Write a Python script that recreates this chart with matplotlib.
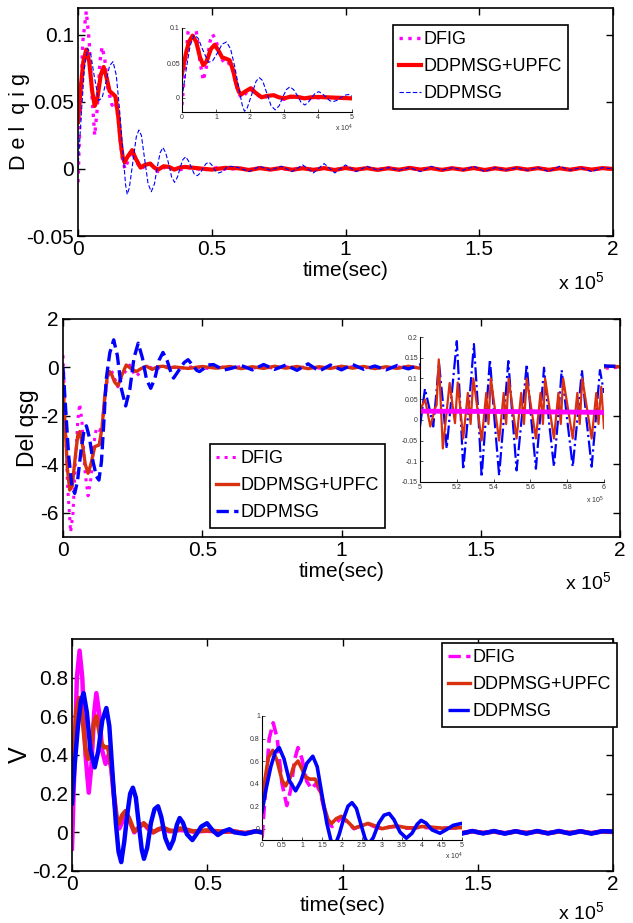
import matplotlib
matplotlib.use('Agg')
import matplotlib.pyplot as plt
from matplotlib.lines import Line2D
from matplotlib.ticker import FuncFormatter

plt.rcParams['font.family'] = ['Liberation Sans Narrow', 'Liberation Sans', 'DejaVu Sans']
plt.rcParams['mathtext.default'] = 'regular'

W, H = 633, 923

# ---------------- data (time in units of 1e5) ----------------
labels = ['DFIG', 'DDPMSG+UPFC', 'DDPMSG']
x_ticks = [0, 0.5, 1, 1.5, 2]

t_tail = [0.60, 0.64, 0.68, 0.72, 0.76, 0.80, 0.84, 0.88, 0.92, 0.96, 1.00, 1.04,
          1.08, 1.12, 1.16, 1.20, 1.24, 1.28, 1.32, 1.36, 1.40, 1.44, 1.48, 1.52,
          1.56, 1.60, 1.64, 1.68, 1.72, 1.76, 1.80, 1.84, 1.88, 1.92, 1.96, 2.00]

# Panel 1: Del qig
p1_blue_t = [0, 0.012, 0.024, 0.036, 0.048, 0.06, 0.0775, 0.09, 0.105, 0.118, 0.131, 0.143,
             0.155, 0.168, 0.178, 0.184, 0.192, 0.205, 0.218, 0.2275, 0.237, 0.25, 0.262,
             0.274, 0.286, 0.296, 0.307, 0.3175, 0.328, 0.34, 0.35, 0.361, 0.372, 0.382,
             0.392, 0.4025, 0.413, 0.424, 0.435, 0.446, 0.458, 0.468, 0.479, 0.49, 0.50,
             0.512, 0.525, 0.54, 0.555, 0.57]
p1_blue_v = [0, 0.04, 0.075, 0.09, 0.085, 0.07, 0.051, 0.053, 0.065, 0.077, 0.08, 0.07,
             0.045, 0.012, -0.012, -0.019, -0.014, 0.005, 0.024, 0.029, 0.025, 0.006, -0.011,
             -0.017, -0.011, 0.001, 0.012, 0.016, 0.012, 0.003, -0.006, -0.010, -0.006, 0.001,
             0.007, 0.009, 0.006, 0.001, -0.004, -0.005, -0.003, 0.001, 0.004, 0.005, 0.003,
             -0.001, -0.003, -0.002, 0.001, 0.002]
p1_blue_tail = [0.001, -0.002, 0.002, -0.001, 0.002, -0.002, 0.003, -0.003, 0.004, -0.003,
                0.003, -0.002, 0.002, -0.001, 0.001, -0.001, 0.001, -0.002, 0.002, -0.001,
                0.001, -0.001, 0.002, -0.002, 0.001, -0.001, 0.001, -0.001, 0.001, -0.002,
                0.002, -0.001, 0.001, -0.002, 0.001, 0.0]

p1_red_t = [0, 0.01, 0.02, 0.031, 0.042, 0.053, 0.0625, 0.072, 0.085, 0.096, 0.107, 0.118,
            0.13, 0.14, 0.15, 0.159, 0.167, 0.174, 0.185, 0.2025, 0.215, 0.234, 0.25, 0.27,
            0.285, 0.30, 0.32, 0.34, 0.36, 0.38, 0.40, 0.45, 0.50, 0.55]
p1_red_v = [0.035, 0.06, 0.08, 0.089, 0.08, 0.058, 0.047, 0.052, 0.07, 0.076, 0.068, 0.058,
            0.056, 0.054, 0.04, 0.021, 0.009, 0.005, 0.009, 0.014, 0.008, 0.001, 0.003, 0.004,
            0.001, -0.0005, 0.002, 0.0015, -0.0005, 0.001, 0.0015, 0.0005, -0.0005, 0.0008]
p1_red_tail = [0.0005, -0.0008, 0.0006, -0.0005, 0.0008, -0.0006, 0.0005, -0.0007, 0.0006,
               -0.0008, 0.0007, -0.0005, 0.0006, -0.0007, 0.0005, -0.0006, 0.0008, -0.0005,
               0.0006, -0.0007, 0.0005, -0.0006, 0.0007, -0.0008, 0.0005, -0.0006, 0.0007,
               -0.0005, 0.0006, -0.0007, 0.0005, -0.0006, 0.0007, -0.0005, 0.0006, 0.0]

p1_mag_t = [0, 0.008, 0.018, 0.031, 0.042, 0.052, 0.0625, 0.072, 0.082, 0.09, 0.10, 0.112,
            0.1275, 0.14, 0.15, 0.159, 0.167, 0.176, 0.19, 0.2, 0.215, 0.234, 0.25, 0.27,
            0.285, 0.30, 0.33, 0.37, 0.42, 0.47, 0.52, 0.56]
p1_mag_v = [-0.01, 0.04, 0.095, 0.1175, 0.095, 0.055, 0.025, 0.045, 0.08, 0.091, 0.082, 0.06,
            0.0475, 0.05, 0.038, 0.019, 0.006, 0.0, 0.008, 0.013, 0.007, 0.0, 0.002, 0.004,
            0.0, -0.002, 0.002, -0.001, 0.001, -0.0008, 0.0009, -0.0006]
p1_mag_tail = [0.0008, -0.0006, 0.0009, -0.0007, 0.0006, -0.0009, 0.0007, -0.0006, 0.0008,
               -0.0007, 0.0006, -0.0008, 0.0007, -0.0006, 0.0009, -0.0007, 0.0006, -0.0008,
               0.0007, -0.0006, 0.0008, -0.0007, 0.0006, -0.0009, 0.0007, -0.0006, 0.0008,
               -0.0007, 0.0006, -0.0008, 0.0007, -0.0006, 0.0008, -0.0007, 0.0006, 0.0]

# Panel 2: Del qsg
p2_blue_t = [0, 0.01, 0.02, 0.032, 0.042, 0.052, 0.065, 0.075, 0.084, 0.095, 0.108, 0.12,
             0.129, 0.138, 0.147, 0.155, 0.168, 0.182, 0.195, 0.21, 0.225, 0.24, 0.255, 0.27,
             0.285, 0.30, 0.315, 0.33, 0.345, 0.359, 0.375, 0.39, 0.397, 0.42, 0.435, 0.449,
             0.465, 0.48, 0.49, 0.505, 0.52, 0.54, 0.56, 0.58]
p2_blue_v = [0, -1.8, -3.6, -4.9, -5.2, -4.7, -3.4, -2.65, -2.41, -2.9, -3.9, -4.5,
             -4.65, -3.9, -2.2, -0.5, 0.6, 1.14, 0.5, -0.9, -1.59, -0.9, 0.4, 1.0,
             0.4, -0.5, -0.86, -0.45, 0.3, 0.62, 0.25, -0.3, -0.44, -0.05, 0.2, 0.32,
             0.1, -0.12, -0.17, -0.05, 0.1, 0.12, 0.0, -0.1]
p2_blue_tail = [-0.05, 0.08, -0.1, 0.12, -0.08, 0.1, -0.12, 0.15, -0.15, 0.1, -0.1, 0.12,
                -0.08, 0.06, -0.1, 0.08, -0.06, 0.1, -0.08, 0.06, -0.1, 0.08, -0.06, 0.1,
                -0.08, 0.05, -0.08, 0.1, -0.06, 0.08, -0.1, 0.06, -0.08, 0.1, 0.05, 0.05]

p2_red_t = [0, 0.008, 0.016, 0.024, 0.033, 0.045, 0.053, 0.06, 0.07, 0.08, 0.09, 0.1,
            0.114, 0.13, 0.14, 0.15, 0.16, 0.167, 0.175, 0.185, 0.197, 0.21, 0.227, 0.245,
            0.263, 0.28, 0.30, 0.32, 0.34, 0.36, 0.38, 0.40, 0.45, 0.50, 0.55]
p2_red_v = [-0.6, -2.5, -4.2, -5.06, -4.9, -3.6, -2.8, -2.65, -3.2, -4.0, -4.37, -4.0,
            -3.27, -3.2, -2.5, -1.2, -0.3, -0.17, -0.3, -0.6, -0.76, -0.35, 0.1, -0.05,
            -0.17, -0.05, 0.05, -0.08, 0.03, 0.05, -0.03, 0.02, -0.04, 0.04, -0.03]
p2_red_tail = [0.04, -0.05, 0.03, -0.04, 0.05, -0.03, 0.04, -0.05, 0.03, -0.04, 0.05, -0.03,
               0.04, -0.05, 0.03, -0.04, 0.05, -0.03, 0.04, -0.05, 0.03, -0.04, 0.05, -0.03,
               0.04, -0.05, 0.03, -0.04, 0.05, -0.03, 0.04, -0.05, 0.03, -0.04, 0.05, 0.03]

p2_mag_t = [0, 0.008, 0.016, 0.0275, 0.036, 0.045, 0.053, 0.06, 0.068, 0.078, 0.09, 0.1,
            0.11, 0.12, 0.13, 0.14, 0.15, 0.16, 0.173, 0.185, 0.197, 0.21, 0.24, 0.26,
            0.28, 0.30, 0.33, 0.37, 0.42, 0.47, 0.52, 0.56]
p2_mag_v = [0.5, -2.0, -4.8, -6.8, -6.0, -3.8, -2.2, -1.5, -2.2, -4.2, -5.3, -4.6,
            -3.2, -2.5, -2.6, -2.5, -1.3, -0.4, -0.1, -0.45, -0.8, -0.4, 0.1, -0.37,
            -0.2, 0.05, -0.06, 0.04, -0.03, 0.03, -0.04, 0.03]
p2_mag_tail = [-0.03, 0.04, -0.03, 0.03, -0.04, 0.03, -0.03, 0.04, -0.03, 0.03, -0.04, 0.03,
               -0.03, 0.04, -0.03, 0.03, -0.04, 0.03, -0.03, 0.04, -0.03, 0.03, -0.04, 0.03,
               -0.03, 0.04, -0.03, 0.03, -0.04, 0.03, -0.03, 0.04, -0.03, 0.03, -0.04, 0.02]

# Panel 2 inset (time in units of 1e5, 5..6)
in2_blue_t = [5.0, 5.027, 5.05, 5.072, 5.088, 5.103, 5.125, 5.145, 5.172, 5.2, 5.218, 5.235,
              5.265, 5.293, 5.315, 5.335, 5.357, 5.38, 5.405, 5.43, 5.455, 5.48, 5.502, 5.525,
              5.552, 5.58, 5.605, 5.63, 5.652, 5.674, 5.70, 5.728, 5.75, 5.77, 5.80, 5.83,
              5.855, 5.88, 5.905, 5.933, 5.955, 5.978, 6.0]
in2_blue_v = [-0.016, 0.075, 0.03, -0.016, 0.06, 0.138, 0.04, -0.069, 0.06, 0.19, 0.04, -0.12,
              0.03, 0.183, 0.03, -0.138, 0.0, 0.146, 0.0, -0.134, 0.0, 0.142, 0.01, -0.122,
              0.0, 0.134, 0.0, -0.118, 0.0, 0.126, 0.0, -0.113, 0.0, 0.12, 0.0, -0.113,
              0.0, 0.12, 0.0, -0.113, 0.0, 0.12, 0.065]
in2_red_t = [5.0, 5.028, 5.056, 5.083, 5.09, 5.102, 5.124, 5.145, 5.161, 5.19, 5.205, 5.235,
             5.26, 5.275, 5.29, 5.335, 5.36, 5.372, 5.385, 5.43, 5.455, 5.468, 5.482, 5.525,
             5.55, 5.565, 5.58, 5.63, 5.655, 5.668, 5.68, 5.728, 5.752, 5.765, 5.778, 5.83,
             5.855, 5.868, 5.882, 5.933, 5.958, 5.97, 5.985, 6.0]
in2_red_v = [0.024, 0.049, -0.016, 0.03, 0.035, 0.146, -0.069, 0.02, 0.089, -0.008, 0.09, -0.045,
             0.065, -0.01, 0.1, -0.05, 0.065, -0.01, 0.1, -0.05, 0.065, -0.01, 0.1, -0.045,
             0.065, -0.01, 0.1, -0.045, 0.065, -0.01, 0.1, -0.045, 0.065, -0.01, 0.1, -0.045,
             0.065, -0.01, 0.1, -0.045, 0.065, -0.01, 0.08, -0.02]
in2_mag_t = [5.0, 5.5, 6.0]
in2_mag_v = [0.021, 0.02, 0.018]

# Panel 3: V
p3_blue_t = [0, 0.01, 0.022, 0.033, 0.043, 0.055, 0.068, 0.084, 0.097, 0.112, 0.127, 0.138,
             0.15, 0.162, 0.172, 0.182, 0.193, 0.205, 0.215, 0.225, 0.236, 0.248, 0.258,
             0.266, 0.278, 0.292, 0.305, 0.318, 0.33, 0.345, 0.361, 0.375, 0.388, 0.398,
             0.41, 0.425, 0.445, 0.46, 0.478, 0.499, 0.52, 0.539, 0.56, 0.582]
p3_blue_v = [0.15, 0.35, 0.55, 0.68, 0.72, 0.62, 0.43, 0.336, 0.42, 0.58, 0.643, 0.55,
             0.3, 0.05, -0.1, -0.154, -0.05, 0.1, 0.2, 0.231, 0.18, 0.03, -0.09,
             -0.137, -0.08, 0.05, 0.12, 0.135, 0.08, -0.03, -0.084, -0.04, 0.04, 0.074,
             0.05, -0.01, -0.04, -0.01, 0.03, 0.047, 0.01, -0.014, 0.005, 0.016]
p3_blue_tail = [0.0, -0.008, 0.006, -0.006, 0.008, -0.005, 0.007, -0.008, 0.006, -0.008, 0.007,
                -0.006, 0.008, -0.007, 0.006, -0.007, 0.007, -0.006, 0.007, -0.007, 0.006, -0.007,
                0.007, -0.006, 0.007, -0.007, 0.006, -0.007, 0.007, -0.006, 0.007, -0.007, 0.006,
                -0.007, 0.006, 0.004]

p3_red_t = [0, 0.008, 0.016, 0.027, 0.038, 0.05, 0.059, 0.07, 0.08, 0.09, 0.1, 0.108,
            0.12, 0.133, 0.145, 0.155, 0.165, 0.174, 0.186, 0.198, 0.212, 0.23, 0.248, 0.265,
            0.283, 0.30, 0.318, 0.336, 0.36, 0.38, 0.40, 0.42, 0.45, 0.50, 0.55]
p3_red_v = [0.2, 0.45, 0.63, 0.695, 0.6, 0.43, 0.38, 0.45, 0.56, 0.6, 0.53, 0.46,
            0.44, 0.44, 0.35, 0.2, 0.08, 0.047, 0.09, 0.11, 0.07, 0.005, 0.025, 0.047,
            0.025, 0.0, 0.015, 0.025, 0.01, 0.005, 0.02, 0.015, 0.005, 0.01, 0.004]
p3_red_tail = [0.005, -0.004, 0.005, -0.003, 0.004, -0.005, 0.004, -0.003, 0.005, -0.004,
               0.004, -0.003, 0.005, -0.004, 0.004, -0.005, 0.003, -0.004, 0.005, -0.003,
               0.004, -0.004, 0.005, -0.003, 0.004, -0.005, 0.004, -0.003, 0.005, -0.004,
               0.004, -0.003, 0.005, -0.004, 0.004, 0.002]

p3_mag_t = [0, 0.008, 0.018, 0.028, 0.038, 0.05, 0.062, 0.072, 0.082, 0.09, 0.1, 0.112,
            0.124, 0.135, 0.145, 0.155, 0.165, 0.175, 0.188, 0.198, 0.21, 0.23, 0.25, 0.265,
            0.28, 0.30, 0.32, 0.336, 0.36, 0.40, 0.45, 0.50, 0.55]
p3_mag_v = [-0.084, 0.3, 0.8, 0.94, 0.8, 0.4, 0.205, 0.35, 0.62, 0.72, 0.62, 0.42,
            0.354, 0.4, 0.33, 0.18, 0.06, 0.02, 0.06, 0.1, 0.07, 0.0, 0.03, 0.045,
            0.02, 0.0, 0.015, 0.02, 0.005, 0.012, 0.004, 0.008, 0.003]
p3_mag_tail = [0.004, -0.004, 0.005, -0.003, 0.004, -0.004, 0.005, -0.003, 0.004, -0.004,
               0.005, -0.003, 0.004, -0.004, 0.005, -0.003, 0.004, -0.004, 0.005, -0.003,
               0.004, -0.004, 0.005, -0.003, 0.004, -0.004, 0.005, -0.003, 0.004, -0.004,
               0.005, -0.003, 0.004, -0.004, 0.005, 0.002]

# ---------------- styling ----------------
MAG = '#ff00ff'
RED1 = '#ff0000'
RED2 = '#d9300f'
BLUE = '#0000ff'

fig = plt.figure(figsize=(W / 100, H / 100), dpi=100)


def add_px(l, t, r, b):
    return fig.add_axes([l / W, 1 - b / H, (r - l) / W, (b - t) / H])


fmt = FuncFormatter(lambda v, p: '%g' % round(v, 6))


def style_main(ax, xlim, ylim, yticks):
    ax.set_xlim(xlim)
    ax.set_ylim(ylim)
    ax.set_xticks(x_ticks)
    ax.set_yticks(yticks)
    ax.xaxis.set_major_formatter(fmt)
    ax.yaxis.set_major_formatter(fmt)
    ax.tick_params(direction='in', top=True, right=True, length=5, width=1,
                   labelsize=15, pad=3)
    for s in ax.spines.values():
        s.set_linewidth(1.2)


def style_inset(ax, xlim, ylim, xticks, yticks):
    ax.set_xlim(xlim)
    ax.set_ylim(ylim)
    ax.set_xticks(xticks)
    ax.set_yticks(yticks)
    ax.xaxis.set_major_formatter(fmt)
    ax.yaxis.set_major_formatter(fmt)
    ax.spines['top'].set_visible(False)
    ax.spines['right'].set_visible(False)
    for s in ('left', 'bottom'):
        ax.spines[s].set_linewidth(0.8)
    ax.tick_params(direction='in', length=2, width=0.6, labelsize=5, pad=1.5,
                   colors='#333333')


def legend(handles, l, t):
    # figure-level legend so it sits above the inset axes
    lg = fig.legend(handles, labels, loc='upper left',
                    bbox_to_anchor=(l / W, 1 - t / H), bbox_transform=fig.transFigure,
                    borderaxespad=0, prop={'family': 'Liberation Sans', 'size': 13},
                    frameon=True, fancybox=False,
                    handlelength=1.2, handletextpad=0.15, labelspacing=0.55,
                    borderpad=0.35, framealpha=1)
    lg.get_frame().set_edgecolor('black')
    lg.get_frame().set_linewidth(1.2)
    return lg


# ---------------- Panel 1 ----------------
ax1 = add_px(78, 8, 613, 236)
l1m, = ax1.plot(p1_mag_t + t_tail, p1_mag_v + p1_mag_tail, color=MAG, ls=':', lw=2.4)
l1r, = ax1.plot(p1_red_t + t_tail, p1_red_v + p1_red_tail, color=RED1, ls='-', lw=3.0)
l1b, = ax1.plot(p1_blue_t + t_tail, p1_blue_v + p1_blue_tail, color=BLUE, ls='--',
                lw=0.8, dashes=(4, 2))
style_main(ax1, (0, 2), (-0.05, 0.12), [-0.05, 0, 0.05, 0.1])
ax1.set_xlabel('time(sec)', fontsize=15, labelpad=1)
ax1.set_ylabel('D e l  q i g', fontsize=15.5, labelpad=-3)

in1 = add_px(182, 28, 352, 112)
in1.plot([v * 10 for v in p1_mag_t + t_tail], p1_mag_v + p1_mag_tail, color=MAG, ls=':', lw=2.4)
in1.plot([v * 10 for v in p1_red_t + t_tail], p1_red_v + p1_red_tail, color=RED1, lw=3.0)
in1.plot([v * 10 for v in p1_blue_t + t_tail], p1_blue_v + p1_blue_tail, color=BLUE,
         ls='--', lw=0.8, dashes=(4, 2))
style_inset(in1, (0, 5), (-0.02, 0.1), [0, 1, 2, 3, 4, 5], [0, 0.05, 0.1])
fig.text(353 / W, 1 - 131 / H, 'x 10$^4$', ha='right', va='baseline', fontsize=5,
         color='#333333')
legend([l1m, l1r, l1b], 393, 25)
fig.text(604 / W, 1 - 289 / H, 'x 10$^5$', ha='right', va='baseline', fontsize=14)

# ---------------- Panel 2 ----------------
ax2 = add_px(63, 319, 620, 537)
l2m, = ax2.plot(p2_mag_t + t_tail, p2_mag_v + p2_mag_tail, color=MAG, ls=':', lw=2.2)
l2r, = ax2.plot(p2_red_t + t_tail, p2_red_v + p2_red_tail, color=RED2, ls='-', lw=2.4)
l2b, = ax2.plot(p2_blue_t + t_tail, p2_blue_v + p2_blue_tail, color=BLUE, ls='--', lw=2.4)
style_main(ax2, (0, 2), (-7, 2), [-6, -4, -2, 0, 2])
ax2.set_xlabel('time(sec)', fontsize=15, labelpad=1)
ax2.set_ylabel('Del qsg', fontsize=16.5, labelpad=1)
legend([l2m, l2r, l2b], 210, 444)
fig.text(611 / W, 1 - 589 / H, 'x 10$^5$', ha='right', va='baseline', fontsize=14)

in2 = add_px(420, 337, 604, 482)
in2.plot(in2_blue_t, in2_blue_v, color=BLUE, ls='-.', lw=1.6)
in2.plot(in2_red_t, in2_red_v, color=RED2, ls='-', lw=1.6)
in2.plot(in2_mag_t, in2_mag_v, color=MAG, ls='-', lw=3.5)
style_inset(in2, (5, 6), (-0.15, 0.2), [5, 5.2, 5.4, 5.6, 5.8, 6],
            [-0.15, -0.1, -0.05, 0, 0.05, 0.1, 0.15, 0.2])
fig.text(604 / W, 1 - 503 / H, 'x 10$^5$', ha='right', va='baseline', fontsize=5,
         color='#333333')

# ---------------- Panel 3 ----------------
ax3 = add_px(72, 639, 613, 871)
ax3.plot(p3_mag_t + t_tail, p3_mag_v + p3_mag_tail, color=MAG, ls='-', lw=3.2)
ax3.plot(p3_red_t + t_tail, p3_red_v + p3_red_tail, color=RED2, ls='-', lw=3.2)
ax3.plot(p3_blue_t + t_tail, p3_blue_v + p3_blue_tail, color=BLUE, ls='-', lw=3.2)
style_main(ax3, (0, 2), (-0.2, 1.0), [-0.2, 0, 0.2, 0.4, 0.6, 0.8])
ax3.set_xlabel('time(sec)', fontsize=15, labelpad=1)
ax3.set_ylabel('V', fontsize=18, labelpad=0)
fig.text(604 / W, 1 - 919 / H, 'x 10$^5$', ha='right', va='baseline', fontsize=14)

in3 = add_px(262, 716, 462, 840)
in3.plot([v * 10 for v in p3_mag_t + t_tail], p3_mag_v + p3_mag_tail, color=MAG, ls='--', lw=2.6)
in3.plot([v * 10 for v in p3_red_t + t_tail], p3_red_v + p3_red_tail, color=RED2, lw=2.6)
in3.plot([v * 10 for v in p3_blue_t + t_tail], p3_blue_v + p3_blue_tail, color=BLUE, lw=2.6)
style_inset(in3, (0, 5), (-0.1, 1.0), [0, 0.5, 1, 1.5, 2, 2.5, 3, 3.5, 4, 4.5, 5],
            [0, 0.2, 0.4, 0.6, 0.8, 1])
fig.text(463 / W, 1 - 859 / H, 'x 10$^4$', ha='right', va='baseline', fontsize=5,
         color='#333333')
h3 = [Line2D([], [], color=MAG, ls='--', lw=2.4),
      Line2D([], [], color=RED2, ls='-', lw=2.4),
      Line2D([], [], color=BLUE, ls='-.', lw=2.4)]
legend(h3, 442, 643)

fig.savefig('out.png', dpi=100)
